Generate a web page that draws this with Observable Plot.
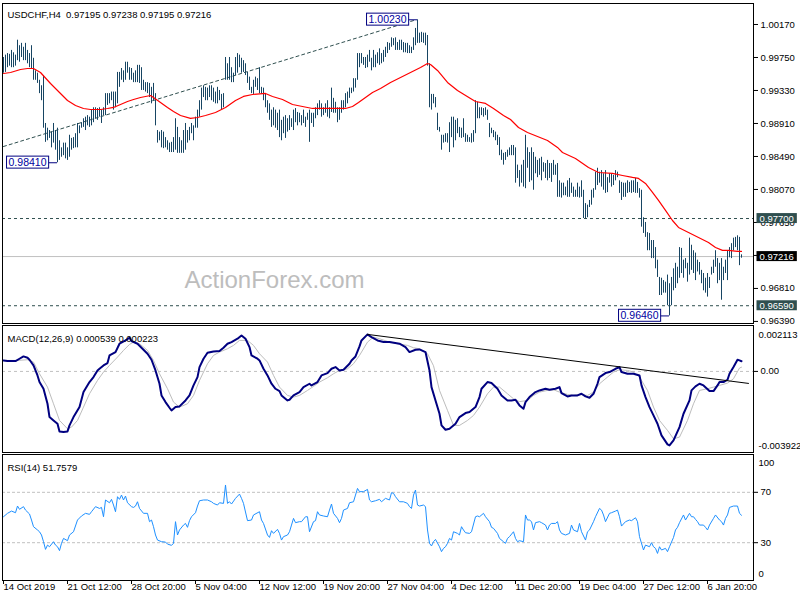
<!DOCTYPE html>
<html><head><meta charset="utf-8">
<script src="https://cdn.jsdelivr.net/npm/d3@7"></script>
<script src="https://cdn.jsdelivr.net/npm/@observablehq/plot@0.6"></script>
<style>body{margin:0;background:#fff}#chart{position:relative;width:800px;height:600px;overflow:hidden;background:#fff}</style>
</head><body><div id="chart"></div>
<script>
// ---------------- DATA ----------------
const titleMain = "USDCHF,H4\u00a0 0.97195 0.97238 0.97195 0.97216";
const macdTitle = "MACD(12,26,9) 0.000539 0.000223";
const rsiTitle = "RSI(14) 51.7579";
const watermark = "ActionForex.com";

const highs = [
0.9975,0.9978,0.9980,0.9979,0.9984,0.9981,0.9978,0.9997,0.9990,0.9993,
0.9988,0.9993,0.9984,0.9980,0.9990,0.9974,0.9958,0.9955,0.9946,0.9939,
0.9952,0.9891,0.9885,0.9882,0.9880,0.9891,0.9882,0.9885,0.9869,0.9860,
0.9866,0.9866,0.9860,0.9876,0.9872,0.9873,0.9878,0.9891,0.9888,0.9892,
0.9897,0.9899,0.9901,0.9899,0.9908,0.9911,0.9911,0.9910,0.9911,0.9908,
0.9911,0.9929,0.9929,0.9929,0.9931,0.9931,0.9931,0.9956,0.9956,0.9961,
0.9958,0.9969,0.9969,0.9962,0.9961,0.9955,0.9958,0.9965,0.9965,0.9962,
0.9946,0.9943,0.9943,0.9942,0.9937,0.9942,0.9929,0.9882,0.9880,0.9882,
0.9880,0.9873,0.9869,0.9866,0.9867,0.9873,0.9897,0.9886,0.9873,0.9869,
0.9882,0.9891,0.9882,0.9886,0.9891,0.9888,0.9899,0.9908,0.9920,0.9936,
0.9939,0.9937,0.9936,0.9939,0.9939,0.9936,0.9931,0.9937,0.9933,0.9928,
0.9929,0.9975,0.9967,0.9975,0.9962,0.9955,0.9975,0.9980,0.9978,0.9974,
0.9971,0.9967,0.9956,0.9950,0.9937,0.9946,0.9950,0.9948,0.9962,0.9937,
0.9936,0.9929,0.9920,0.9916,0.9908,0.9911,0.9908,0.9904,0.9908,0.9895,
0.9899,0.9901,0.9897,0.9901,0.9897,0.9908,0.9910,0.9905,0.9904,0.9901,
0.9908,0.9899,0.9904,0.9908,0.9904,0.9904,0.9911,0.9916,0.9920,0.9916,
0.9911,0.9916,0.9920,0.9911,0.9936,0.9923,0.9918,0.9911,0.9911,0.9920,
0.9920,0.9929,0.9931,0.9936,0.9936,0.9948,0.9948,0.9980,0.9980,0.9980,
0.9975,0.9975,0.9978,0.9984,0.9974,0.9984,0.9978,0.9981,0.9986,0.9980,
0.9984,0.9988,0.9994,0.9993,1.0000,0.9999,1.0000,0.9994,0.9997,0.9997,
0.9994,0.9993,0.9993,0.9990,0.9988,1.0000,1.0012,1.0023,1.0006,1.0007,
1.0006,1.0006,1.0003,0.9967,0.9928,0.9928,0.9924,0.9904,0.9886,0.9876,
0.9876,0.9878,0.9878,0.9892,0.9899,0.9899,0.9895,0.9897,0.9886,0.9885,
0.9897,0.9878,0.9876,0.9873,0.9878,0.9882,0.9920,0.9918,0.9911,0.9911,
0.9910,0.9911,0.9908,0.9891,0.9885,0.9882,0.9880,0.9876,0.9873,0.9857,
0.9853,0.9854,0.9857,0.9860,0.9863,0.9863,0.9860,0.9838,0.9831,0.9838,
0.9844,0.9876,0.9860,0.9854,0.9860,0.9854,0.9848,0.9844,0.9846,0.9848,
0.9841,0.9840,0.9844,0.9840,0.9840,0.9844,0.9838,0.9840,0.9818,0.9815,
0.9815,0.9810,0.9818,0.9821,0.9815,0.9810,0.9806,0.9815,0.9810,0.9818,
0.9806,0.9789,0.9787,0.9793,0.9806,0.9808,0.9829,0.9834,0.9829,0.9831,
0.9827,0.9831,0.9822,0.9827,0.9827,0.9825,0.9831,0.9829,0.9818,0.9816,
0.9815,0.9815,0.9818,0.9816,0.9818,0.9818,0.9821,0.9816,0.9808,0.9806,
0.9771,0.9765,0.9752,0.9751,0.9742,0.9742,0.9733,0.9717,0.9695,0.9694,
0.9691,0.9689,0.9698,0.9687,0.9695,0.9706,0.9713,0.9708,0.9733,0.9732,
0.9717,0.9719,0.9713,0.9745,0.9736,0.9729,0.9726,0.9717,0.9714,0.9704,
0.9700,0.9694,0.9700,0.9695,0.9708,0.9717,0.9729,0.9719,0.9713,0.9719,
0.9708,0.9717,0.9729,0.9733,0.9738,0.9745,0.9746,0.9748,0.9746,0.97238];

const lows = [
0.9955,0.9956,0.9962,0.9964,0.9962,0.9962,0.9964,0.9971,0.9969,0.9975,
0.9971,0.9971,0.9967,0.9962,0.9961,0.9946,0.9946,0.9942,0.9929,0.9920,
0.9885,0.9867,0.9869,0.9872,0.9860,0.9866,0.9857,0.9841,0.9844,0.9848,
0.9850,0.9846,0.9844,0.9848,0.9857,0.9859,0.9860,0.9860,0.9878,0.9885,
0.9886,0.9882,0.9888,0.9886,0.9888,0.9892,0.9897,0.9895,0.9899,0.9891,
0.9901,0.9901,0.9914,0.9916,0.9920,0.9908,0.9911,0.9916,0.9937,0.9946,
0.9943,0.9946,0.9955,0.9946,0.9946,0.9943,0.9943,0.9943,0.9942,0.9933,
0.9933,0.9931,0.9929,0.9924,0.9916,0.9920,0.9888,0.9866,0.9869,0.9860,
0.9859,0.9860,0.9857,0.9854,0.9854,0.9854,0.9857,0.9853,0.9853,0.9853,
0.9853,0.9857,0.9866,0.9869,0.9878,0.9869,0.9885,0.9885,0.9899,0.9908,
0.9924,0.9920,0.9920,0.9924,0.9920,0.9918,0.9916,0.9916,0.9920,0.9908,
0.9911,0.9946,0.9946,0.9946,0.9943,0.9943,0.9952,0.9955,0.9962,0.9955,
0.9956,0.9952,0.9942,0.9933,0.9929,0.9928,0.9937,0.9933,0.9929,0.9928,
0.9920,0.9911,0.9904,0.9895,0.9886,0.9888,0.9885,0.9882,0.9873,0.9869,
0.9878,0.9872,0.9880,0.9882,0.9886,0.9882,0.9892,0.9888,0.9892,0.9888,
0.9891,0.9886,0.9895,0.9867,0.9891,0.9886,0.9897,0.9901,0.9908,0.9899,
0.9901,0.9904,0.9899,0.9897,0.9905,0.9904,0.9904,0.9892,0.9895,0.9904,
0.9908,0.9911,0.9916,0.9923,0.9929,0.9931,0.9936,0.9946,0.9962,0.9967,
0.9965,0.9961,0.9962,0.9969,0.9958,0.9962,0.9962,0.9967,0.9965,0.9967,
0.9969,0.9975,0.9980,0.9984,0.9988,0.9990,0.9984,0.9984,0.9984,0.9984,
0.9981,0.9981,0.9980,0.9980,0.9980,0.9984,0.9990,0.9993,0.9993,0.9994,
0.9993,0.9990,0.9964,0.9911,0.9908,0.9916,0.9911,0.9882,0.9880,0.9857,
0.9866,0.9867,0.9866,0.9854,0.9873,0.9860,0.9869,0.9878,0.9873,0.9872,
0.9873,0.9867,0.9867,0.9867,0.9866,0.9867,0.9878,0.9897,0.9897,0.9901,
0.9899,0.9901,0.9895,0.9873,0.9878,0.9873,0.9869,0.9863,0.9850,0.9844,
0.9838,0.9844,0.9848,0.9850,0.9850,0.9850,0.9815,0.9821,0.9810,0.9815,
0.9810,0.9808,0.9834,0.9816,0.9818,0.9806,0.9827,0.9822,0.9825,0.9818,
0.9829,0.9821,0.9818,0.9821,0.9816,0.9825,0.9825,0.9797,0.9797,0.9796,
0.9799,0.9799,0.9797,0.9797,0.9802,0.9797,0.9797,0.9797,0.9796,0.9797,
0.9770,0.9770,0.9771,0.9784,0.9787,0.9796,0.9806,0.9812,0.9815,0.9810,
0.9806,0.9802,0.9803,0.9815,0.9810,0.9812,0.9818,0.9822,0.9802,0.9793,
0.9797,0.9797,0.9802,0.9803,0.9802,0.9803,0.9802,0.9802,0.9796,0.9759,
0.9751,0.9746,0.9729,0.9729,0.9719,0.9719,0.9706,0.9695,0.9672,0.9672,
0.9675,0.9675,0.9659,0.9646,0.9659,0.9678,0.9681,0.9687,0.9694,0.9700,
0.9694,0.9706,0.9689,0.9698,0.9704,0.9700,0.9691,0.9702,0.9698,0.9687,
0.9678,0.9675,0.9670,0.9681,0.9698,0.9700,0.9708,0.9687,0.9691,0.9666,
0.9691,0.9700,0.9691,0.9720,0.9719,0.9729,0.9733,0.9729,0.9710,0.97195];

const maIdx = [0,3.5,8.5,12,15,18.5,23.5,28.5,32,36,40,43.5,48.5,52,55,58.5,62,65,68.5,73.5,
75,78.5,82,85,88.5,93.5,97,101,106,111,116,120,124.5,131,134.5,139.5,144.5,149.5,154.5,161,
167.5,171,174.5,177.5,181,184.5,188.5,193.5,198.5,203.5,208.5,212,213.5,217,222,227,233.5,236,241,245,
250,253.5,257.5,262,267,272,277,279.5,286,292.5,297.5,304.5,309.5,314.5,317.5,321,324.5,327.5,331,334.5,
337.5,342.5,347.5,352.5,356,359.5,362.5,367,369];
const maVal = [0.99546,0.99559,0.99597,0.9961,0.9961,0.99559,0.99419,0.99292,0.99203,0.99139,
0.99101,0.99088,0.99088,0.99101,0.99114,0.99152,0.9919,0.99215,0.99241,0.99266,
0.99241,0.99177,0.99114,0.99063,0.99012,0.98974,0.98986,0.99012,0.9905,0.99114,
0.99203,0.99254,0.99279,0.99292,0.99254,0.99215,0.99152,0.99126,0.99101,0.99101,
0.99101,0.99101,0.99126,0.99177,0.99241,0.99305,0.99355,0.99432,0.99495,0.99559,
0.99623,0.99674,0.99661,0.99585,0.99432,0.9933,0.99228,0.9919,0.99165,0.99101,
0.99012,0.98961,0.98859,0.98796,0.98745,0.98694,0.98605,0.98541,0.98465,0.9835,
0.98286,0.98274,0.98248,0.98223,0.9821,0.98146,0.98032,0.9793,0.97803,0.97675,
0.97586,0.97523,0.97459,0.97395,0.97332,0.97294,0.97294,0.97281,0.97281];

// price panel annotations
const priceTicks = [1.0017,0.9975,0.9933,0.9891,0.9849,0.9807,0.9765,0.9723,0.9681,0.9639];
const levelLines = [0.977, 0.9659];
const bidPrice = 0.97216;
const markVals = [0.977, 0.97216, 0.9659];
const markBg = ["#2f4f4f", "#000000", "#2f4f4f"];
const noteIdx = [27, 207, 333];
const noteVal = [0.9841, 1.0023, 0.9646];
const trendIdx = [0, 205];
const trendVal = [0.98617, 1.0022];

// MACD
const macdIdx = [0,2,6,8,10,12,13,15,17,18,20,22,23,25,27,28,30,32,33,35,38,40,43,45,47,48,50,52,53,56,
58,61,63,64,67,69,72,74,76,78,79,81,83,84,86,88,91,93,95,97,98,100,102,105,108,110,112,114,117,119,
121,123,124,127,128,130,132,134,136,138,139,142,143,145,148,150,153,154,157,159,162,164,166,168,170,173,174,176,178,179,
182,184,187,190,193,198,201,203,206,208,211,213,214,216,218,219,221,223,226,228,231,233,236,238,239,242,244,247,249,252,
254,256,258,260,261,263,266,268,271,273,276,278,279,282,284,287,289,291,293,295,297,298,301,303,306,308,309,312,315,318,
319,321,323,325,327,329,332,333,335,338,340,343,344,346,348,350,353,355,357,358,360,362,363,365,367,368,369];
const macdVal = [0.000582,0.000547,0.000547,0.000671,0.000794,0.000724,0.000618,0.000318,-0.000212,-0.000565,
-0.000918,-0.001712,-0.002418,-0.002595,-0.002771,-0.003177,-0.003212,-0.003177,-0.002859,-0.002418,
-0.001889,-0.001094,-0.000565,-0.000300,0.000053,0.000141,0.000318,0.000441,0.000847,0.001024,
0.001465,0.001641,0.001783,0.001606,0.001465,0.001253,0.000935,0.000618,0.000053,-0.000653,
-0.001271,-0.001624,-0.001924,-0.002065,-0.001889,-0.001853,-0.001536,-0.001271,-0.000741,-0.000300,
0.000229,0.000671,0.000988,0.001059,0.001077,0.001253,0.001465,0.001553,0.001730,0.001906,
0.001730,0.001288,0.000847,0.000671,0.000582,0.000141,-0.000212,-0.000653,-0.000918,-0.001041,
-0.001271,-0.001536,-0.001500,-0.001271,-0.001094,-0.000830,-0.000653,-0.000741,-0.000565,-0.000212,
-0.000088,0.000141,0.000229,0.000053,0.000088,0.000406,0.000582,0.000794,0.001324,0.001641,
0.001959,0.001818,0.001641,0.001553,0.001553,0.001465,0.001288,0.001024,0.001147,0.001165,
0.001024,0.000053,-0.000830,-0.001536,-0.002242,-0.002859,-0.003089,-0.003036,-0.002771,-0.002418,
-0.002206,-0.002153,-0.001889,-0.001359,-0.000918,-0.000565,-0.000618,-0.000918,-0.001271,-0.001536,
-0.001536,-0.001500,-0.001800,-0.001977,-0.001624,-0.001359,-0.001094,-0.001006,-0.000918,-0.000971,
-0.000918,-0.000830,-0.001147,-0.001324,-0.001271,-0.001271,-0.001183,-0.001324,-0.001394,-0.001183,
-0.000653,-0.000300,-0.000088,-0.000035,0.000141,0.000229,-0.000035,-0.000124,-0.000124,-0.000212,
-0.000741,-0.001359,-0.001889,-0.002330,-0.002771,-0.003389,-0.003865,-0.003922,-0.003654,-0.002948,
-0.002242,-0.001536,-0.001006,-0.000794,-0.000653,-0.000741,-0.001041,-0.001041,-0.000741,-0.000565,
-0.000565,-0.000441,-0.000124,0.000229,0.000618,0.000582,0.000539];
const sigIdx = [0,7,12,15,18,22,25,28,32,34,37,40,43,47,50,53,57,60,63,65,68,72,75,78,82,85,88,92,95,98,
102,105,108,112,115,118,122,125,128,132,135,138,142,145,148,152,155,158,162,165,168,172,175,178,182,185,188,192,197,202,
205,208,212,215,218,222,225,228,232,235,238,242,245,248,252,255,258,262,265,268,272,275,278,282,285,288,292,295,298,302,
305,308,312,315,318,322,325,328,332,335,338,342,345,348,352,355,358,362,365,368,369];
const sigVal = [0.000582,0.000582,0.000618,0.000494,-0.000124,-0.000830,-0.001712,-0.002595,-0.003036,-0.002948,
-0.002595,-0.001889,-0.001183,-0.000477,-0.000035,0.000318,0.000759,0.001112,0.001430,0.001553,
0.001465,0.001112,0.000582,-0.000124,-0.000918,-0.001624,-0.001889,-0.001712,-0.001271,-0.000477,
0.000406,0.000847,0.001024,0.001200,0.001377,0.001641,0.001641,0.001377,0.000935,0.000494,
-0.000212,-0.000830,-0.001271,-0.001359,-0.001271,-0.001006,-0.000794,-0.000565,-0.000335,-0.000124,
0.000053,0.000141,0.000406,0.000847,0.001553,0.001818,0.001730,0.001588,0.001465,0.001377,
0.001253,0.001200,0.000935,0.000300,-0.001006,-0.002065,-0.002859,-0.002859,-0.002595,-0.002330,
-0.001889,-0.001183,-0.000830,-0.000830,-0.001183,-0.001450,-0.001600,-0.001536,-0.001271,-0.001094,
-0.001006,-0.000971,-0.001094,-0.001218,-0.001271,-0.001218,-0.001271,-0.001094,-0.000653,-0.000300,
-0.000035,0.000088,0.000053,-0.000035,-0.000300,-0.001006,-0.001889,-0.002595,-0.003124,-0.003565,
-0.003477,-0.002595,-0.001712,-0.001006,-0.000918,-0.000830,-0.000741,-0.000618,-0.000388,0.000180,
0.000223];
const macdTrendIdx = [182, 372.5];
const macdTrendVal = [0.00196, -0.000635];
const macdLabels = [0.002113, -0.003922];

// RSI
const rsiIdx = [0,2,4,6,7,8,10,11,13,14, 15,17,18,19,20,21,22,23,25,26, 27,28,29,30,32,33,35,37,39,41,
43,44,46,48,49,50,51,53,54,55, 56,57,58,59,60,61,62,64,65,66, 67,68,70,72,73,74,75,76,77,79,
81,82,84,85,86,87,88,90,91,92, 93,94,96,97,98,100,102,104,105,107, 108,110,111,112,113,114,116,118,119,120,
122,124,125,128,129,130,132,133,134,135, 137,138,139,140,142,143,144,145,146,148, 149,151,152,153,155,156,157,158,160,162,
163,164,165,167,168,169,170,172,173,175, 176,177,178,180,182,183,184,186,188,189, 191,193,194,195,196,198,200,202,203,204,
205,206,207,208,210,211,212,213,214,215, 216,218,219,220,221,222,223,224,225,227, 228,229,230,231,233,234,236,237,238,240,
241,243,244,245,247,248,250,251,252,253, 255,256,257,258,260,261,262,263,264,265, 266,268,269,271,272,273,274,276,277,278,
279,281,283,284,285,287,288,289,291,292, 293,295,296,298,299,300,301,303,304,306, 307,308,309,311,313,314,316,317,318,320,
321,323,324,325,326,327,328,329,331,332, 333,335,336,337,338,340,341,343,344,345, 346,347,348,350,351,352,353,355,356,358,
359,360,361,362,363,365,367,368,369];
const rsiVal = [50.6,53.3,55.1,53.8,59.1,56.5,58.6,55.9,52.8,48.0, 42.7,40.1,38.7,36.1,30.8,24.7,28.1,26.8,30.8,28.1,
26.8,23.7,29.5,33.4,31.6,36.1,38.7,48.0,51.2,53.3, 52.5,54.6,58.6,57.2,58.0,50.6,63.9,61.7,64.4,59.9,
54.6,66.5,64.4,67.8,63.9,67.0,61.7,58.6,58.0,59.1, 62.5,57.2,53.3,53.3,46.7,48.0,42.7,36.1,32.1,30.8,
30.5,28.9,27.9,29.5,46.7,36.1,40.1,44.0,45.3,42.2, 47.5,50.6,53.8,59.1,63.3,63.9,63.9,62.5,61.2,59.9,
61.7,61.2,75.8,61.2,62.5,60.7,65.2,68.6,65.2,61.2, 47.5,48.0,52.0,54.6,48.0,45.3,36.1,34.2,39.5,37.4,
40.6,37.4,32.1,34.8,36.1,38.7,44.0,49.3,45.9,46.7, 46.7,50.6,50.6,38.7,46.7,47.5,54.6,52.0,51.2,50.6,
55.9,60.7,53.3,49.3,45.9,49.3,55.9,57.2,61.7,62.5, 67.8,73.1,70.5,70.5,72.3,63.9,62.5,63.3,64.4,62.5,
65.2,63.9,69.7,69.2,66.5,62.5,62.5,61.2,58.6,57.2, 67.8,71.8,59.9,59.1,59.9,58.6,40.1,29.5,27.4,30.8,
32.6,26.8,22.9,25.5,26.8,29.5,33.4,32.1,38.7,37.4, 36.1,42.7,40.1,37.9,37.4,38.7,50.6,51.2,50.6,53.3,
50.6,46.7,42.2,41.4,37.4,33.4,30.8,29.5,33.4,34.8, 38.7,33.4,30.8,31.6,30.8,52.0,48.0,48.0,46.7,40.1,
45.9,46.7,45.9,44.0,40.1,44.0,45.3,45.3,46.7,40.1, 37.4,36.1,37.4,44.0,40.1,38.7,45.3,38.7,32.1,38.7,
40.1,46.7,50.6,57.2,55.9,52.0,46.7,53.3,53.8,55.1, 55.9,50.6,43.2,46.7,48.0,47.5,49.8,46.7,34.8,24.2,
28.1,26.8,30.0,26.8,25.5,21.5,26.8,24.2,25.5,22.9, 26.8,34.2,40.1,42.2,45.9,52.0,48.0,53.3,50.6,50.6,
48.5,46.7,44.0,44.0,42.2,40.1,44.0,49.3,52.0,48.0, 46.7,44.0,49.3,52.0,58.0,59.1,59.1,53.3,51.76];
const rsiLevels = [70, 30];

// time axis
const dateIdx = [0,32,64,96,128,160,192,224,256,288,320,352];
const dateLabels = ["14 Oct 2019","21 Oct 12:00","28 Oct 20:00","5 Nov 04:00","12 Nov 12:00","19 Nov 20:00",
"27 Nov 04:00","4 Dec 12:00","11 Dec 20:00","19 Dec 04:00","27 Dec 12:00","6 Jan 20:00"];

// ---------------- DRAWING ----------------
const FONT = "'Liberation Sans', Arial, sans-serif";
const BAR = "#174563";
const xDomain = [-0.5, 375];
const chart = document.getElementById("chart");
const barIdx = highs.map((d, i) => i);
const baseStyle = {fontFamily: FONT, fontSize: "9.5px", color: "black", background: "transparent", overflow: "visible"};

function place(svg, top) {
  svg.style.position = "absolute";
  svg.style.left = "0px";
  svg.style.top = top + "px";
  chart.appendChild(svg);
}
function addBoxes(svg, specs) {
  const groups = new Set();
  for (const t of Array.from(svg.querySelectorAll("text"))) {
    const s = specs[t.textContent];
    if (!s) continue;
    const b = t.getBBox();
    const r = document.createElementNS("http://www.w3.org/2000/svg", "rect");
    r.setAttribute("x", b.x - s.px);
    r.setAttribute("y", b.y + s.py);
    r.setAttribute("width", b.width + 2 * s.px);
    r.setAttribute("height", b.height - 2 * s.py);
    r.setAttribute("fill", s.fill);
    r.setAttribute("stroke", s.stroke);
    const tr = t.getAttribute("transform");
    if (tr) r.setAttribute("transform", tr);
    t.parentNode.insertBefore(r, t);
    groups.add(t.parentNode);
  }
  for (const g of groups) svg.appendChild(g);
}

// --- price panel ---
const main = Plot.plot({
  width: 800, height: 325, marginLeft: 2, marginRight: 47, marginTop: 3, marginBottom: 2,
  style: baseStyle,
  x: {domain: xDomain, axis: null},
  y: {domain: [0.963637, 1.004373], axis: "right", ticks: priceTicks, tickFormat: d => d.toFixed(5),
      tickSize: 4, tickPadding: 3, label: null},
  marks: [
    Plot.text([watermark], {frameAnchor: "bottom-left", dx: 182, dy: -36, textAnchor: "start",
      fontSize: 24, fill: "#bdbdbd", fontFamily: FONT}),
    Plot.ruleY(levelLines, {stroke: "#2f4f4f", strokeDasharray: "3,3"}),
    Plot.ruleY([bidPrice], {stroke: "#c0c0c0"}),
    Plot.line(trendIdx, {x: d => d, y: (d, k) => trendVal[k], stroke: "#2f4f4f", strokeWidth: 1, strokeDasharray: "3,3"}),
    Plot.ruleX(barIdx, {x: d => d, y1: d => lows[d], y2: d => highs[d], stroke: BAR, strokeWidth: 1}),
    Plot.line(maIdx, {x: d => d, y: (d, k) => maVal[k], stroke: "#ff0000", strokeWidth: 1.2}),
    Plot.ruleY(noteIdx, {y: (d, k) => noteVal[k], x1: d => d - 4.5, x2: d => d, stroke: "#000080"}),
    Plot.text(noteIdx, {x: d => d - 4.5, y: (d, k) => noteVal[k], text: (d, k) => noteVal[k].toFixed(5),
      textAnchor: "end", dx: -2, fill: "#0000a0", fontSize: 10.5}),
    Plot.text(markVals, {y: d => d, frameAnchor: "right", text: d => d.toFixed(5), textAnchor: "start",
      dx: 6, fill: "white"}),
    Plot.text([titleMain], {frameAnchor: "top-left", dx: 5, dy: 8, textAnchor: "start", fill: "black"}),
    Plot.frame({stroke: "black"})
  ]
});
place(main, 0);
const boxSpecs = {};
noteVal.forEach(v => boxSpecs[v.toFixed(5)] = {px: 2, py: 0, fill: "white", stroke: "#000080"});
markVals.forEach((v, k) => boxSpecs[v.toFixed(5)] = {px: 3, py: 0.5, fill: markBg[k], stroke: "none"});
addBoxes(main, boxSpecs);

// --- MACD panel ---
const macd = Plot.plot({
  width: 800, height: 130, marginLeft: 2, marginRight: 47, marginTop: 1, marginBottom: 2,
  style: baseStyle,
  x: {domain: xDomain, axis: null},
  y: {domain: [-0.004293, 0.002431], axis: "right", ticks: [0], tickFormat: () => "0.00",
      tickSize: 4, tickPadding: 3, label: null},
  marks: [
    Plot.ruleY([0], {stroke: "#c0c0c0", strokeDasharray: "3,3"}),
    Plot.line(sigIdx, {x: d => d, y: (d, k) => sigVal[k], stroke: "#bdbdbd", strokeWidth: 1}),
    Plot.line(macdIdx, {x: d => d, y: (d, k) => macdVal[k], stroke: "#000080", strokeWidth: 2}),
    Plot.line(macdTrendIdx, {x: d => d, y: (d, k) => macdTrendVal[k], stroke: "black", strokeWidth: 1}),
    Plot.text([macdLabels[0]], {y: d => d, frameAnchor: "right", text: d => d.toFixed(6), textAnchor: "start", dx: 5, dy: 3}),
    Plot.text([macdLabels[1]], {y: d => d, frameAnchor: "right", text: d => d.toFixed(6), textAnchor: "start", dx: 5}),
    Plot.text([macdTitle], {frameAnchor: "top-left", dx: 5, dy: 10, textAnchor: "start", fill: "black"}),
    Plot.frame({stroke: "black"})
  ]
});
place(macd, 324);

// --- RSI panel ---
const rsi = Plot.plot({
  width: 800, height: 147, marginLeft: 2, marginRight: 47, marginTop: 1, marginBottom: 20,
  style: baseStyle,
  x: {domain: xDomain, axis: "bottom", ticks: dateIdx, tickFormat: () => "", tickSize: 4, label: null},
  y: {domain: [0, 100], axis: "right", ticks: rsiLevels, tickFormat: d => String(d), tickSize: 4, tickPadding: 3, label: null},
  marks: [
    Plot.ruleY(rsiLevels, {stroke: "#c0c0c0", strokeDasharray: "3,2"}),
    Plot.line(rsiIdx, {x: d => d, y: (d, k) => rsiVal[k], stroke: "#1e90ff", strokeWidth: 1}),
    Plot.text([100], {y: d => d, frameAnchor: "right", text: d => String(d), textAnchor: "start", dx: 5, dy: 8}),
    Plot.text([0], {y: d => d, frameAnchor: "right", text: d => String(d), textAnchor: "start", dx: 5, dy: -7}),
    Plot.text(dateIdx, {x: d => d, text: (d, k) => dateLabels[k], frameAnchor: "bottom", dy: 9, dx: 0, textAnchor: "start"}),
    Plot.text([rsiTitle], {frameAnchor: "top-left", dx: 5, dy: 10, textAnchor: "start", fill: "black"}),
    Plot.frame({stroke: "black"})
  ]
});
place(rsi, 453);
</script>
</body></html>
